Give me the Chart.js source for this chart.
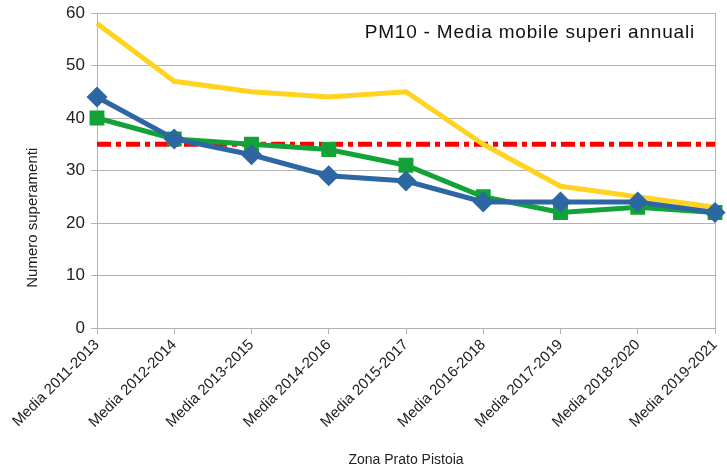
<!DOCTYPE html>
<html>
<head>
<meta charset="utf-8">
<script src="https://cdn.jsdelivr.net/npm/chart.js@4/dist/chart.umd.min.js"></script>
<style>
  html, body { margin: 0; padding: 0; background: #fff; }
  #wrap { width: 727px; height: 473px; position: relative; }
</style>
</head>
<body>
<div id="wrap"><canvas id="chart" width="727" height="473"></canvas></div>
<script>
const categories = ['Media 2011-2013', 'Media 2012-2014', 'Media 2013-2015', 'Media 2014-2016',
    'Media 2015-2017', 'Media 2016-2018', 'Media 2017-2019', 'Media 2018-2020', 'Media 2019-2021'];
const yellowValues = [58, 47, 45, 44, 45, 35, 27, 25, 23];
const blueValues = [44, 36, 33, 29, 28, 24, 24, 24, 22];
const greenValues = [40, 36, 35, 34, 31, 25, 22, 23, 22];
const limitValue = 35;
const limitValues = categories.map(() => limitValue);
const yTicks = [0, 10, 20, 30, 40, 50, 60];

const titleText = 'PM10 - Media mobile superi annuali';
const yTitleText = 'Numero superamenti';
const fontFam = '"Liberation Sans", Arial, sans-serif';

// chart title inside the plot (top right) and the y axis title, which sits low
const extraTexts = {
    id: 'extraTexts',
    afterDraw(chart) {
        const ctx = chart.ctx;
        const area = chart.chartArea;
        ctx.save();
        ctx.font = '19px ' + fontFam;
        ctx.letterSpacing = '0.8px';
        ctx.fillStyle = '#111';
        ctx.textAlign = 'right';
        ctx.textBaseline = 'middle';
        ctx.fillText(titleText, area.right - 20, area.top + 20);
        ctx.restore();

        ctx.save();
        ctx.font = '15px ' + fontFam;
        ctx.fillStyle = '#222';
        ctx.textAlign = 'center';
        ctx.textBaseline = 'middle';
        ctx.translate(33, area.top + (area.bottom - area.top) * 0.65);
        ctx.rotate(-Math.PI / 2);
        ctx.fillText(yTitleText, 0, 0);
        ctx.restore();
    }
};

const lastIdx = categories.length - 1;

new Chart(document.getElementById('chart'), {
    type: 'line',
    data: {
        labels: categories,
        datasets: [
            {
                label: 'Limite',
                data: limitValues,
                borderColor: '#ff0000',
                borderWidth: 5,
                borderDash: [14, 5, 5, 5],
                pointRadius: 0,
                order: 4
            },
            {
                label: 'Serie 3',
                data: greenValues,
                borderColor: '#13a238',
                backgroundColor: '#13a238',
                borderWidth: 5,
                pointStyle: 'rect',
                pointRadius: 7,
                order: 3
            },
            {
                label: 'Serie 1',
                data: yellowValues,
                borderColor: '#ffd320',
                borderWidth: 5,
                pointRadius: 0,
                order: 2
            },
            {
                label: 'Serie 2',
                data: blueValues,
                borderColor: '#2d66a3',
                backgroundColor: '#2d66a3',
                borderWidth: 5,
                pointStyle: 'rectRot',
                pointRadius: 7,
                order: 1
            }
        ]
    },
    options: {
        responsive: false,
        animation: false,
        layout: { padding: { left: 0, right: 8, top: 13, bottom: 0 } },
        elements: { line: { tension: 0 } },
        plugins: {
            legend: { display: false },
            tooltip: { enabled: false }
        },
        scales: {
            x: {
                offset: false,
                afterFit: axis => {
                    axis.height = 145;
                    axis.paddingRight = 0;
                    axis.paddingLeft = 0;
                },
                grid: {
                    color: c => (c.index === 0 || c.index === lastIdx) ? '#b3b3b3' : 'rgba(0,0,0,0)',
                    tickColor: '#b3b3b3',
                    tickLength: 6
                },
                border: { color: '#b3b3b3' },
                ticks: {
                    minRotation: 45,
                    maxRotation: 45,
                    color: '#222',
                    font: { family: fontFam, size: 15 },
                    padding: 2
                },
                title: {
                    display: true,
                    text: 'Zona Prato Pistoia',
                    color: '#222',
                    font: { family: fontFam, size: 14 },
                    padding: { top: 14, bottom: 4 }
                }
            },
            y: {
                min: yTicks[0],
                max: yTicks[yTicks.length - 1],
                afterBuildTicks: axis => { axis.ticks = yTicks.map(v => ({ value: v })); },
                afterFit: axis => {
                    axis.width = 97;
                    axis.paddingTop = 0;
                    axis.paddingBottom = 0;
                },
                grid: { color: '#b3b3b3', tickLength: 6 },
                border: { color: '#b3b3b3' },
                ticks: {
                    color: '#222',
                    font: { family: fontFam, size: 17 },
                    padding: 6
                },
                title: { display: false }
            }
        }
    },
    plugins: [extraTexts]
});
</script>
</body>
</html>
